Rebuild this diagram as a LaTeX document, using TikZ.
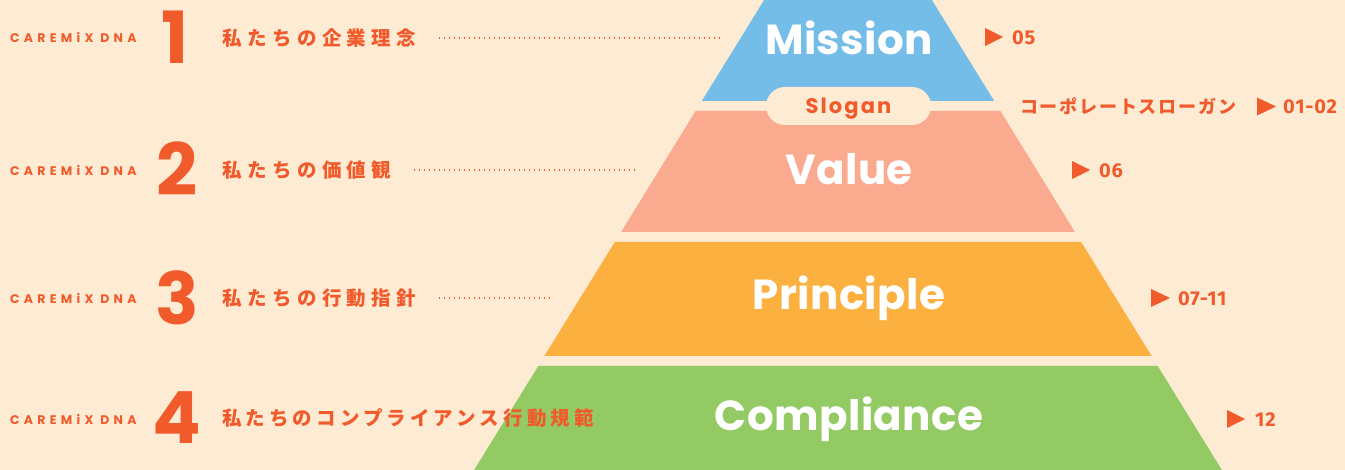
\documentclass[tikz,border=0pt]{standalone}
\usepackage{fontspec}
\setmainfont{Poppins}
\newfontfamily\pop{Poppins}
\newfontfamily\jp{Noto Sans CJK JP}
\newfontfamily\num{Fira Sans}
\definecolor{bg}{HTML}{FEEBD4}
\definecolor{ora}{HTML}{F15A2B}
\definecolor{cmis}{HTML}{74BDE8}
\definecolor{cval}{HTML}{F9AA8F}
\definecolor{cpri}{HTML}{FBB040}
\definecolor{ccom}{HTML}{94CA64}
\begin{document}
\begin{tikzpicture}[x=1pt,y=-1pt,
  every node/.style={inner sep=0pt},
  dna/.style={anchor=west,text=ora,font=\pop\bfseries\fontsize{12.5}{12.5}\selectfont\addfontfeatures{LetterSpace=34}},
  bignum/.style={text=ora,font=\pop\bfseries\fontsize{72}{72}\selectfont},
  jtext/.style={anchor=west,text=ora,font=\jp\bfseries\fontsize{19.5}{20}\selectfont\addfontfeatures{LetterSpace=28}},
  band/.style={text=white,font=\pop\bfseries\fontsize{42}{42}\selectfont\addfontfeatures{LetterSpace=1}},
  pg/.style={anchor=west,text=ora,font=\num\bfseries\fontsize{20}{20}\selectfont\addfontfeatures{LetterSpace=4}},
  tri/.style={fill=ora},
  dotline/.style={ora,line width=1.2pt,dash pattern=on 1.2pt off 3.8pt}]
\fill[bg] (0,0) rectangle (1345,470);
\useasboundingbox (0,0) rectangle (1345,470);
% pyramid bands
\fill[cmis] (764.1,0) -- (931.9,0) -- (994.2,101) -- (701.8,101) -- cycle;
\fill[cval] (695.6,111) -- (1000.4,111) -- (1074.9,232) -- (621.1,232) -- cycle;
\fill[cpri] (614.8,242) -- (1081.2,242) -- (1151.6,356) -- (544.4,356) -- cycle;
\fill[ccom] (538.3,366) -- (1157.7,366) -- (1221.9,470) -- (474.1,470) -- cycle;
% band labels
\node[band] (mission) at (849,38) {Mission};
\node[band] (value) at (849,169) {Value};
\node[band] (principle) at (849,298) {Principle};
\node[band] (compliance) at (849,419) {Compliance};
\node[fill=bg,rounded corners=19pt,minimum width=165pt,minimum height=38pt,text=ora,
  text height=14.7pt,text depth=0pt,
  font=\pop\bfseries\fontsize{21}{21}\selectfont\addfontfeatures{LetterSpace=10}] (slogan) at (848.5,106) {Slogan};
% left labels
\node[dna] (dna1) at (10,38) {CAREMiX DNA};
\node[dna] (dna2) at (10,171) {CAREMiX DNA};
\node[dna] (dna3) at (10,299) {CAREMiX DNA};
\node[dna] (dna4) at (10,420) {CAREMiX DNA};
\node[bignum] (n1) at (175,37) {1};
\node[bignum] (n2) at (177,169) {2};
\node[bignum] (n3) at (177,298) {3};
\node[bignum] (n4) at (177,418) {4};
\node[jtext] (j1) at (222,38) {私たちの企業理念};
\node[jtext] (j2) at (222,170) {私たちの価値観};
\node[jtext] (j3) at (222,298) {私たちの行動指針};
\node[jtext,font=\jp\bfseries\fontsize{19.5}{20}\selectfont\addfontfeatures{LetterSpace=21}] (j4) at (222,418) {私たちのコンプライアンス行動規範};
% dotted leaders
\coordinate (d1) at (720,38);
\coordinate (d2) at (636,170);
\coordinate (d3) at (553,298);
\draw[dotline] ([xshift=22pt]j1.east) -- (d1 |- j1.east);
\draw[dotline] ([xshift=22pt]j2.east) -- (d2 |- j2.east);
\draw[dotline] ([xshift=22pt]j3.east) -- (d3 |- j3.east);
% right page references
\fill[tri] (985,28) -- (1003,37) -- (985,46) -- cycle;
\node[pg] (p05) at (1012,38) {05};
\node[anchor=west,text=ora,font=\jp\bfseries\fontsize{18}{18}\selectfont\addfontfeatures{LetterSpace=10}] (slg) at (1020,106) {コーポレートスローガン};
\fill[tri] (1257,97.5) -- (1276,106.5) -- (1257,115.5) -- cycle;
\node[pg] (p0102) at (1283,106.5) {01-02};
\fill[tri] (1072,161) -- (1090,170) -- (1072,179) -- cycle;
\node[pg] (p06) at (1099,170.5) {06};
\fill[tri] (1151,289) -- (1170,298) -- (1151,307) -- cycle;
\node[pg] (p0711) at (1178,298.5) {07-11};
\fill[tri] (1227,410) -- (1245,419) -- (1227,428) -- cycle;
\node[pg] (p12) at (1255,419.5) {12};
\end{tikzpicture}
\end{document}
